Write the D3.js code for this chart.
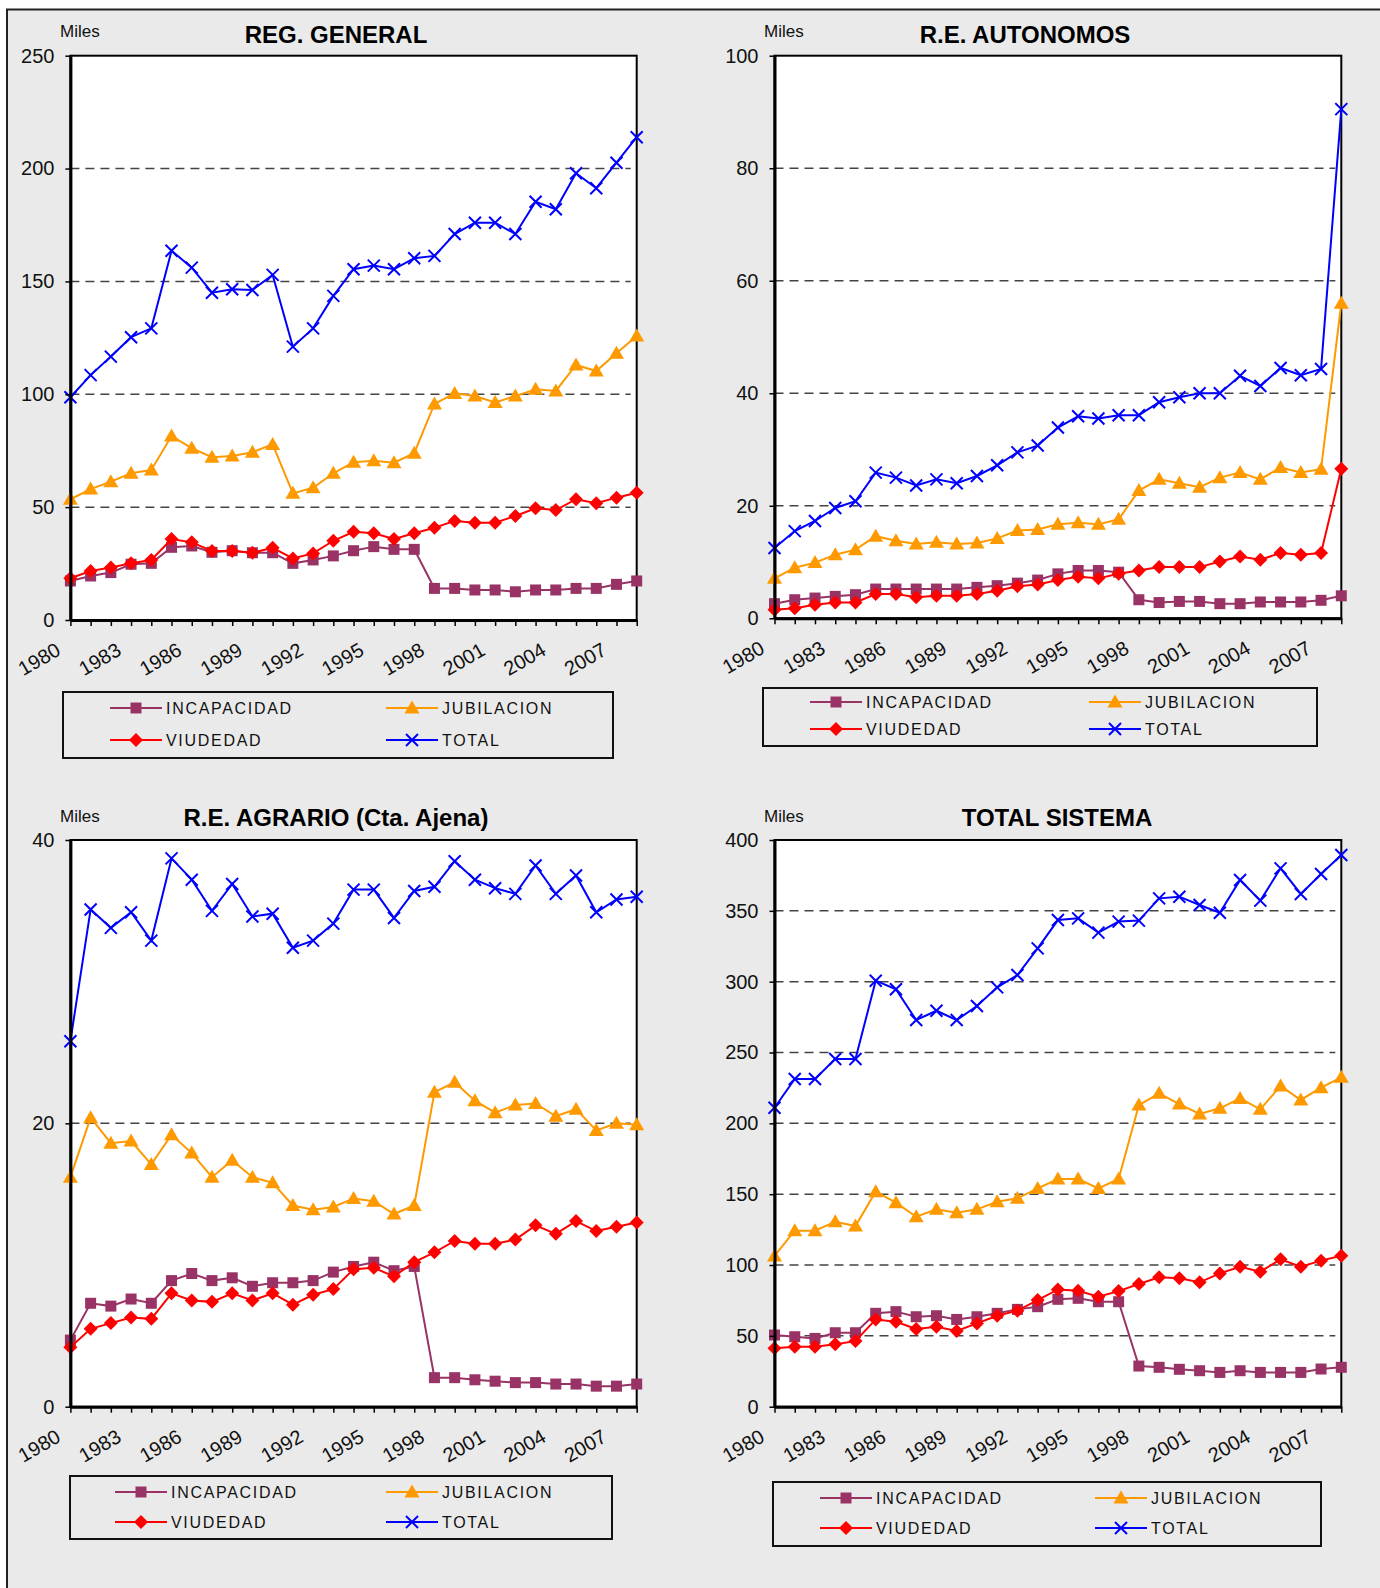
<!DOCTYPE html>
<html>
<head>
<meta charset="utf-8">
<script src="https://cdn.jsdelivr.net/npm/d3@7"></script>
<style>
  body { margin: 0; background: #fff; }
  svg { display: block; font-family: "Liberation Sans", Arial, sans-serif; }
</style>
</head>
<body>
<div id="chart"></div>
<script>
// categories
const years = [1980, 1981, 1982, 1983, 1984, 1985, 1986, 1987, 1988, 1989,
  1990, 1991, 1992, 1993, 1994, 1995, 1996, 1997, 1998, 1999,
  2000, 2001, 2002, 2003, 2004, 2005, 2006, 2007, 2008];
const yearLabels = [1980, 1983, 1986, 1989, 1992, 1995, 1998, 2001, 2004, 2007];
const seriesNames = ["INCAPACIDAD", "JUBILACION", "VIUDEDAD", "TOTAL"];

// REG. GENERAL (miles)
const genIncapacidad = [17.3, 19.5, 21, 24.7, 25.1, 32.2, 32.8, 30, 30.7, 29.8, 29.8, 25.1, 26.6, 28.4, 30.7,
  32.5, 31.3, 31.3, 14, 14, 13.3, 13.3, 12.5, 13.3, 13.3, 14, 14, 15.8, 17.3];
const genJubilacion = [53.5, 58, 61.3, 65, 66.5, 81.5, 76.1, 72.1, 72.7, 74.3, 77.8, 56.1, 58.6, 65, 69.9,
  70.6, 69.7, 73.9, 95.7, 100.4, 99.2, 96.4, 99.2, 102.2, 101.5, 113, 110.3, 118.2, 125.8];
const genViudedad = [18.5, 21.7, 23.3, 25.1, 26.6, 35.9, 34.4, 30.6, 30.6, 29.8, 32, 27.3, 29.5, 35.1, 39.1,
  38.4, 35.9, 38.4, 40.9, 43.9, 43.1, 43.1, 46.1, 49.5, 48.7, 53.5, 51.7, 54.2, 56.4];
const genTotal = [98.7, 108.5, 116.7, 125.3, 129.2, 163.6, 156.1, 145, 146.5, 146.2, 152.9, 121.1, 129.2, 143.6, 155.4,
  157, 155.4, 160.3, 161.3, 171, 176, 176, 171, 185.3, 182, 197.9, 191.3, 202.6, 213.9];

// R.E. AUTONOMOS
const autIncapacidad = [2.6, 3.3, 3.6, 3.9, 4.2, 5.2, 5.2, 5.2, 5.2, 5.2, 5.5, 5.8, 6.25, 6.8, 7.9,
  8.5, 8.5, 8.2, 3.3, 2.8, 3, 3, 2.6, 2.6, 2.9, 2.9, 2.9, 3.2, 4];
const autJubilacion = [7.1, 9, 9.9, 11.3, 12.2, 14.6, 13.8, 13.2, 13.5, 13.2, 13.4, 14.2, 15.6, 15.8, 16.7,
  17, 16.7, 17.6, 22.7, 24.7, 24, 23.3, 25, 25.9, 24.7, 26.8, 25.9, 26.5, 56];
const autViudedad = [1.5, 1.8, 2.4, 2.8, 2.8, 4.3, 4.3, 3.75, 4, 4, 4.3, 4.9, 5.7, 6, 6.8,
  7.4, 7.1, 7.9, 8.5, 9.1, 9.1, 9.1, 10.1, 11, 10.4, 11.6, 11.3, 11.6, 26.6];
const autTotal = [12.5, 15.5, 17.3, 19.6, 20.8, 25.9, 25, 23.6, 24.7, 24, 25.3, 27.2, 29.5, 30.7, 33.9,
  35.9, 35.5, 36.1, 36.1, 38.4, 39.3, 40, 40, 43.1, 41.3, 44.5, 43.2, 44.3, 90.5];

// R.E. AGRARIO (Cta. Ajena)
const agrIncapacidad = [4.7, 7.3, 7.1, 7.6, 7.3, 8.9, 9.4, 8.9, 9.1, 8.5, 8.75, 8.75, 8.9, 9.5, 9.9,
  10.2, 9.6, 9.9, 2.05, 2.05, 1.9, 1.8, 1.7, 1.7, 1.6, 1.6, 1.45, 1.45, 1.6];
const agrJubilacion = [16.2, 20.4, 18.6, 18.75, 17.1, 19.2, 17.9, 16.2, 17.4, 16.2, 15.8, 14.2, 13.9, 14.1, 14.7,
  14.5, 13.6, 14.2, 22.2, 22.9, 21.6, 20.75, 21.3, 21.4, 20.5, 21, 19.5, 20, 19.9];
const agrViudedad = [4.2, 5.5, 5.9, 6.3, 6.2, 8, 7.5, 7.4, 8, 7.5, 8, 7.2, 7.9, 8.3, 9.7,
  9.8, 9.2, 10.2, 10.9, 11.7, 11.5, 11.5, 11.8, 12.8, 12.2, 13.1, 12.4, 12.7, 13];
const agrTotal = [25.8, 35.1, 33.8, 34.9, 32.9, 38.7, 37.2, 35, 36.9, 34.6, 34.8, 32.4, 32.9, 34.1, 36.5,
  36.5, 34.5, 36.4, 36.7, 38.5, 37.2, 36.6, 36.2, 38.2, 36.2, 37.5, 34.9, 35.8, 36];

// TOTAL SISTEMA
const totIncapacidad = [50.6, 49.4, 48.2, 52.2, 52.2, 65.9, 67.1, 63.5, 64.2, 61.6, 63.5, 65.9, 68.7, 70.6, 75.8,
  76.5, 74.1, 74.1, 28.7, 27.8, 26.4, 25.4, 24.2, 25.4, 24.2, 24.2, 24.2, 26.6, 27.8];
const totJubilacion = [106.4, 124.2, 124.2, 130.6, 127.5, 151.8, 144, 134.1, 139.3, 136.9, 139.3, 144.7, 147.1, 154.1, 160.7,
  160.7, 154.1, 160.7, 212.9, 221.2, 213.6, 206.6, 210.6, 217.6, 209.9, 226.4, 216.5, 225.2, 232.5];
const totViudedad = [41.2, 42.4, 42.4, 44, 46.4, 61.6, 60, 54.8, 56.5, 53.4, 58.8, 64.2, 67.8, 75.3, 82.8,
  81.9, 77.6, 81.6, 86.6, 91.3, 90.6, 87.8, 94.1, 98.8, 95.3, 104, 98.8, 103.1, 106.6];
const totTotal = [211, 231.3, 231.3, 245.4, 245.4, 300.7, 294.6, 272.9, 279.5, 272.9, 282.8, 296, 304.7, 323.5, 343.5,
  344.7, 334.6, 342.4, 343.1, 358.8, 360, 354.1, 348.7, 371.8, 357.2, 380, 361.9, 376, 389.4];

// y axis ticks
const genTicks = [0, 50, 100, 150, 200, 250];
const autTicks = [0, 20, 40, 60, 80, 100];
const agrTicks = [0, 20, 40];
const totTicks = [0, 50, 100, 150, 200, 250, 300, 350, 400];

const colors = ["#993366", "#FF9900", "#FF0000", "#0000FF"];
const markers = ["square", "triangle", "diamond", "x"];

const panels = [
  { title: "REG. GENERAL", series: [genIncapacidad, genJubilacion, genViudedad, genTotal], ticks: genTicks,
    x0: 70.4, x1: 636.7, y0: 55.7, y1: 620, titleX: 336, titleY: 43, milesX: 60, milesY: 37,
    leg: { x: 63, y: 692, w: 550, h: 66, rows: [708, 740], lines: [110, 386], len: 52 } },
  { title: "R.E. AUTONOMOS", series: [autIncapacidad, autJubilacion, autViudedad, autTotal], ticks: autTicks,
    x0: 774.5, x1: 1341.3, y0: 55.7, y1: 618.3, titleX: 1025, titleY: 43, milesX: 764, milesY: 37,
    leg: { x: 763, y: 688, w: 554, h: 58, rows: [702, 729], lines: [810, 1089], len: 52 } },
  { title: "R.E. AGRARIO (Cta. Ajena)", series: [agrIncapacidad, agrJubilacion, agrViudedad, agrTotal], ticks: agrTicks,
    x0: 70.4, x1: 636.7, y0: 840, y1: 1406.7, titleX: 336, titleY: 826, milesX: 60, milesY: 822,
    leg: { x: 70, y: 1476, w: 542, h: 63, rows: [1492, 1522], lines: [115, 386], len: 52 } },
  { title: "TOTAL SISTEMA", series: [totIncapacidad, totJubilacion, totViudedad, totTotal], ticks: totTicks,
    x0: 774.5, x1: 1341.3, y0: 840, y1: 1406.7, titleX: 1057, titleY: 826, milesX: 764, milesY: 822,
    leg: { x: 773, y: 1482, w: 548, h: 64, rows: [1498, 1528], lines: [820, 1095], len: 52 } }
];

const svg = d3.select("#chart").append("svg")
  .attr("width", 1380)
  .attr("height", 1588);

// page background + frame
svg.append("rect").attr("width", 1380).attr("height", 1588).attr("fill", "#fff");
svg.append("rect")
  .attr("x", 7).attr("y", 9.5)
  .attr("width", 1400).attr("height", 1600)
  .attr("fill", "#EAEAEA")
  .attr("stroke", "#222").attr("stroke-width", 2);

function drawMarker(g, type, color) {
  if (type === "square") {
    g.append("rect").attr("x", -5.5).attr("y", -5.5).attr("width", 11).attr("height", 11).attr("fill", color);
  } else if (type === "triangle") {
    g.append("path").attr("d", "M0,-7.5L7.5,5.5L-7.5,5.5Z").attr("fill", color);
  } else if (type === "diamond") {
    g.append("path").attr("d", "M0,-7L7,0L0,7L-7,0Z").attr("fill", color);
  } else {
    g.append("path").attr("d", "M-6,-6L6,6M-6,6L6,-6")
      .attr("stroke", color).attr("stroke-width", 2).attr("fill", "none");
  }
}

panels.forEach(function(p) {
  const g = svg.append("g");

  const x = d3.scalePoint().domain(years).range([p.x0, p.x1]).padding(0);
  const y = d3.scaleLinear().domain([0, d3.max(p.ticks)]).range([p.y1, p.y0]);

  // plot area
  g.append("rect")
    .attr("x", p.x0).attr("y", p.y0)
    .attr("width", p.x1 - p.x0).attr("height", p.y1 - p.y0)
    .attr("fill", "#fff").attr("stroke", "#000").attr("stroke-width", 2);

  // dashed gridlines
  g.selectAll(".grid")
    .data(p.ticks.filter(t => t > 0 && t < d3.max(p.ticks)))
    .enter().append("line")
    .attr("x1", p.x0).attr("x2", p.x1 - 6)
    .attr("y1", d => y(d)).attr("y2", d => y(d))
    .attr("stroke", "#444").attr("stroke-width", 1.5)
    .attr("stroke-dasharray", "9,6");

  // series
  p.series.forEach(function(vals, i) {
    const line = d3.line()
      .x((d, j) => x(years[j]))
      .y(d => y(d));
    g.append("path")
      .datum(vals)
      .attr("d", line)
      .attr("fill", "none")
      .attr("stroke", colors[i])
      .attr("stroke-width", 2);

    g.selectAll(".m" + i)
      .data(vals)
      .enter().append("g")
      .attr("transform", (d, j) => "translate(" + x(years[j]) + "," + y(d) + ")")
      .each(function() { drawMarker(d3.select(this), markers[i], colors[i]); });
  });

  // axes
  const yAxis = g.append("g")
    .attr("transform", "translate(" + p.x0 + ",0)")
    .call(d3.axisLeft(y).tickValues(p.ticks).tickSize(5).tickSizeOuter(0).tickPadding(11));
  yAxis.select(".domain").attr("stroke-width", 3);
  yAxis.selectAll(".tick line").attr("stroke-width", 1.5);
  yAxis.selectAll("text")
    .attr("font-size", 20)
    .attr("font-family", "Liberation Sans, Arial, sans-serif")
    .attr("fill", "#111");

  const xAxis = g.append("g")
    .attr("transform", "translate(0," + p.y1 + ")")
    .call(d3.axisBottom(x).tickSize(6).tickSizeOuter(0)
      .tickFormat(d => yearLabels.includes(d) ? d : ""));
  xAxis.select(".domain").attr("stroke-width", 3);
  xAxis.selectAll(".tick line").attr("stroke-width", 1.5);
  xAxis.selectAll("text")
    .attr("font-size", 20)
    .attr("font-family", "Liberation Sans, Arial, sans-serif")
    .attr("fill", "#111")
    .attr("text-anchor", "end")
    .attr("x", -9).attr("y", 34).attr("dy", 0)
    .attr("transform", "rotate(-30,-9,34)");

  // titles
  g.append("text")
    .attr("x", p.titleX).attr("y", p.titleY)
    .attr("text-anchor", "middle")
    .attr("font-size", 24).attr("font-weight", "bold")
    .text(p.title);
  g.append("text")
    .attr("x", p.milesX).attr("y", p.milesY)
    .attr("font-size", 17)
    .attr("fill", "#111")
    .text("Miles");

  // legend
  const L = p.leg;
  g.append("rect")
    .attr("x", L.x).attr("y", L.y).attr("width", L.w).attr("height", L.h)
    .attr("fill", "none").attr("stroke", "#111").attr("stroke-width", 2);
  seriesNames.forEach(function(name, i) {
    const lx = L.lines[i % 2];
    const ly = L.rows[Math.floor(i / 2)];
    const item = g.append("g");
    item.append("line")
      .attr("x1", lx).attr("x2", lx + L.len)
      .attr("y1", ly).attr("y2", ly)
      .attr("stroke", colors[i]).attr("stroke-width", 2);
    drawMarker(item.append("g").attr("transform", "translate(" + (lx + L.len / 2) + "," + ly + ")"), markers[i], colors[i]);
    item.append("text")
      .attr("x", lx + L.len + 4).attr("y", ly + 6)
      .attr("font-size", 16)
      .attr("letter-spacing", 1.7)
      .attr("fill", "#111")
      .text(name);
  });
});
</script>
</body>
</html>
